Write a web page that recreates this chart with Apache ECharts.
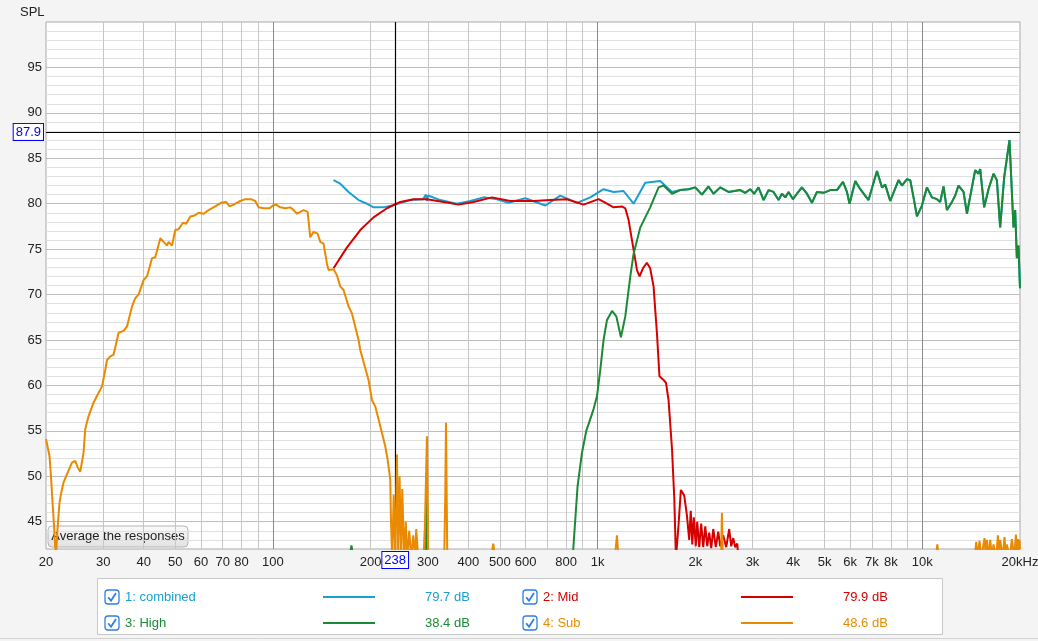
<!DOCTYPE html>
<html><head><meta charset="utf-8">
<script src="https://cdn.jsdelivr.net/npm/echarts@6/dist/echarts.min.js"></script>
<style>html,body{margin:0;padding:0;background:#f4f4f4;}#c{width:1038px;height:641px;}</style>
</head><body><div id="c"></div>
<script>
// ---------- axis ticks ----------
const xTickLabels = [20,30,40,50,60,70,80,100,200,300,400,500,600,800,1000,2000,3000,4000,5000,6000,7000,8000,10000,20000];
const xMinorGrid = [30,40,50,60,70,80,90,200,300,400,500,600,700,800,900,2000,3000,4000,5000,6000,7000,8000,9000];
const xMajorGrid = [100,1000,10000];
const yTickLabels = [45,50,55,60,65,70,75,80,85,90,95];
const yMinorGrid = [43,44,46,47,48,49,51,52,53,54,56,57,58,59,61,62,63,64,66,67,68,69,71,72,73,74,76,77,78,79,81,82,83,84,86,87,88,89,91,92,93,94,96,97,98,99];
const yMin = 42, yMax = 100, xMin = 20, xMax = 20000;

// ---------- cursor ----------
const cursorFreq = 238;
const cursorSPL = 87.9;

// ---------- legend ----------
const seriesNames = ['1: combined', '2: Mid', '3: High', '4: Sub'];
const seriesLevels = ['79.7 dB', '79.9 dB', '38.4 dB', '48.6 dB'];

// ---------- data [Hz, dB SPL] ----------
const combinedLow = [[153.7,82.6],[161.2,82.2],[171.0,81.3],[183.6,80.4],[194.8,80.0],[204.1,79.6],[219.1,79.6],[238.1,79.9],[264.8,80.4],[290,80.5],[296,81.0],[298.1,80.3],[300.5,80.9],[327.7,80.4],[368.8,80.0],[405.3,80.3],[445.4,80.7],[489.7,80.5],[531.8,80.1],[598.8,80.6],[690.4,79.8],[767.5,80.9],[863.8,80.1],[949.3,80.7],[1043,81.6],[1120,81.3],[1202,81.4],[1291,80.0],[1402,82.3],[1559,82.5],[1695,81.3]];

const midData = [[153.7,72.9],[169.1,75.2],[185.8,77.1],[204.1,78.5],[224.5,79.5],[246.8,80.2],[271.1,80.5],[298.1,80.5],[335.5,80.2],[373.0,79.9],[414.9,80.2],[472.7,80.7],[538.2,80.3],[635.0,80.3],[714.9,80.4],[804.5,80.5],[905.2,79.9],[1007,80.5],[1069,80.0],[1120,79.6],[1189,79.7],[1217,79.5],[1246,78.2],[1276,76.0],[1307,73.8],[1322,72.7],[1347,72.0],[1380,72.9],[1418,73.5],[1452,72.9],[1487,70.9],[1523,65.8],[1551,61.0],[1597,60.6],[1624,60.3],[1654,58.4],[1695,53.0],[1723,47.5],[1743,41],[1775,44.6],[1805,48.5],[1848,47.9],[1884,45.7],[1915,43],[1936,46.2],[1957,42.5],[1978,45.5],[2006,42.3],[2027,45],[2056,42.2],[2085,44.8],[2115,42.2],[2146,44.5],[2176,42.3],[2207,43.8],[2239,42.1],[2271,44.2],[2312,42.2],[2353,43.9],[2386,42.3],[2437,43.5],[2490,42.2],[2543,44.2],[2580,42.3],[2617,43.2],[2654,42.2],[2692,42.6],[2730,40]];

const highData = [[172,41],[174.5,42.4],[177,41],[292,41],[294.5,45],[296.5,41],[297.8,49.3],[299.8,41],[829.6,40],[841.5,42],[867.5,48.9],[895.1,52.6],[922.8,55.0],[949.3,56.3],[971.8,57.4],[995.5,58.8],[1019,61.7],[1043,65.0],[1069,67.2],[1108,68.2],[1142,67.6],[1180,65.3],[1217,67.6],[1261,72.0],[1291,74.5],[1354,77.4],[1452,79.6],[1541,81.8],[1597,82.0],[1695,81.1],[1797,81.5],[1907,81.6],[1999,81.8],[2096,81.0],[2196,81.9],[2275,81.1],[2386,81.8],[2530,81.3],[2750,81.5],[2848,81.2],[2951,81.6],[3036,81.1],[3130,81.8],[3245,80.4],[3362,81.5],[3483,81.3],[3609,80.4],[3697,81.1],[3784,80.7],[3874,81.3],[3997,80.5],[4112,81.1],[4260,81.8],[4414,81.1],[4573,80.1],[4738,81.3],[4965,81.2],[5207,81.5],[5460,81.5],[5698,82.4],[5862,81.3],[5971,80.0],[6218,82.5],[6442,81.6],[6832,80.4],[7252,83.6],[7514,81.8],[7691,82.1],[7968,80.3],[8452,82.6],[8659,82.0],[8971,82.7],[9183,82.6],[9400,80.7],[9630,78.6],[9977,79.8],[10337,81.8],[10710,80.7],[11097,80.5],[11359,80.2],[11628,81.9],[11912,79.3],[12342,80.2],[12632,80.9],[12932,82.0],[13399,81.3],[13726,78.9],[14556,83.7],[14901,83.3],[15080,83.8],[15513,79.6],[15995,81.6],[16572,83.3],[16976,82.6],[17377,77.4],[17876,82.9],[18563,87.0],[19097,77.4],[19327,79.3],[19560,74.0],[19785,75.4],[20000,70.7]];

const subData = [[20,54.1],[20.51,52.2],[20.72,50.0],[20.95,47.1],[21.2,44.2],[21.35,42.2],[21.5,41.5],[21.7,44.2],[22.01,47.1],[22.28,48.2],[22.64,49.3],[23.19,50.2],[24.04,51.5],[24.61,51.7],[25.03,51.0],[25.5,50.5],[25.81,50.6],[26.1,52.6],[26.42,55.2],[27.04,56.6],[28.02,58.1],[29.04,59.2],[29.75,59.9],[30.45,61.7],[30.82,62.8],[31.56,63.2],[32.31,63.4],[33.47,65.8],[34.68,66.0],[35.53,66.5],[36.81,68.7],[37.67,69.6],[38.56,70.0],[39.96,71.6],[40.94,72.0],[42.42,74.0],[43.42,74.1],[44.99,76.2],[46.06,75.8],[47.18,75.4],[47.72,75.8],[48.88,75.4],[50.03,77.1],[51.22,77.2],[52.84,77.9],[54.09,77.8],[55.65,78.6],[57.38,78.7],[59.03,79.0],[61.16,78.9],[63.37,79.3],[66.44,79.7],[69.18,80.1],[71.68,80.2],[73.53,79.7],[75.65,79.9],[79.33,80.3],[82.19,80.5],[85.59,80.5],[88.23,80.3],[90.33,79.6],[93.59,79.5],[97.64,79.5],[100,79.8],[102.4,79.9],[105.3,79.6],[109.2,79.5],[113.1,79.6],[115.8,79.3],[118.6,78.9],[121.4,79.1],[124.3,79.3],[127.9,79.1],[130.3,76.3],[133.4,76.9],[137.3,76.7],[139.9,75.8],[143.2,75.6],[146.7,73.4],[148.4,72.7],[153.7,72.8],[157.5,72.1],[161.2,70.9],[165.0,70.5],[171.0,68.7],[175.2,67.9],[183.6,65.0],[185.8,63.9],[197.0,60.6],[201.8,58.4],[206.6,57.7],[211.4,56.3],[216.6,54.8],[221.8,53.3],[225.4,51.9],[229.8,49.7],[230.9,45.3],[233.0,41],[235.5,48],[238.1,41],[241.0,52.4],[243.2,41],[245.5,50.0],[248.4,41],[250.2,48.6],[253.8,41],[256.5,45],[259.2,41],[262.9,44],[266.7,41],[270.5,43.5],[274.3,41],[276.3,44.2],[280.2,41],[292.4,41],[294.5,46],[298.1,54.4],[300.8,41],[337.0,41],[339.5,48],[341.2,55.9],[344.4,41],[470,41],[477,42.6],[484,41],[1130,41],[1147,43.5],[1160,41],[2400,41],[2415,46.0],[2430,41],[11000,41],[11125,42.5],[11250,41],[14500,41],[14664,42.8],[14800,41],[15010,42.9],[15200,41],[15550,43.2],[15700,41],[15815,43.0],[16000,41],[16190,43.0],[16400,41],[16570,42.5],[16900,41],[17095,43.5],[17250,41],[17377,43.0],[17700,41],[17915,43.3],[18100,41],[18220,42.5],[18600,41],[18880,43.1],[19200,41],[19426,43.6],[19600,41],[19700,43.1],[19850,41],[19930,43.0],[20000,42]];

// combined response equals the tweeter response above ~1.8 kHz
const combinedData = combinedLow.concat(highData.filter(p => p[0] >= 1797));

const colors = ['#1a9fd0', '#d60000', '#1b8a35', '#ea8a00'];
const FONT = "'Liberation Sans', Arial, sans-serif";

function fmtFreq(v) {
  if (v >= 20000) return '20kHz';
  if (v >= 1000) return Math.round(v / 1000) + 'k';
  return String(Math.round(v));
}

const cursorLabel = {
  color: '#0000ff', borderColor: '#0000ff', borderWidth: 1, backgroundColor: '#ffffff',
  padding: [2, 2, 1, 2], fontSize: 13, fontFamily: FONT
};

const seriesList = [combinedData, midData, highData, subData].map((d, i) => ({
  type: 'line', name: seriesNames[i], data: d, showSymbol: false, symbol: 'none',
  clip: true, z: 2 + i, lineStyle: { color: colors[i], width: 2 }, itemStyle: { color: colors[i] },
  animation: false
}));
seriesList[0].markLine = {
  silent: true, symbol: ['none', 'none'], animation: false,
  lineStyle: { color: '#000', width: 1.2, type: 'solid' },
  data: [
    { yAxis: cursorSPL, label: Object.assign({ position: 'start', distance: 3, formatter: String(cursorSPL) }, cursorLabel) },
    { xAxis: cursorFreq, label: Object.assign({ position: 'start', distance: 3, formatter: String(cursorFreq) }, cursorLabel) }
  ]
};

// legend graphics
const legendGraphics = [
  { type: 'rect', shape: { x: 97.5, y: 578.5, width: 845, height: 56 }, style: { fill: '#fff', stroke: '#c8c8c8', lineWidth: 1 } }
];
const legendPos = [[105, 590], [523, 590], [105, 616], [523, 616]];
[0, 1, 2, 3].forEach(i => {
  const [bx, by] = legendPos[i];
  const cy = by + 7;
  legendGraphics.push(
    { type: 'rect', shape: { x: bx, y: by, width: 14, height: 14, r: 3 }, style: { fill: '#fff', stroke: '#2d7fe8', lineWidth: 1.3 } },
    { type: 'polyline', shape: { points: [[bx + 3.2, by + 7.2], [bx + 6, by + 10.8], [bx + 11, by + 3]] }, style: { stroke: '#2d7fe8', lineWidth: 1.8, fill: null } },
    { type: 'text', x: bx + 20, y: cy, style: { text: seriesNames[i], fill: colors[i], font: '13px ' + FONT, textVerticalAlign: 'middle' } },
    { type: 'line', shape: { x1: bx + 218, y1: cy, x2: bx + 270, y2: cy }, style: { stroke: colors[i], lineWidth: 2 } },
    { type: 'text', x: bx + 320, y: cy, style: { text: seriesLevels[i], fill: colors[i], font: '13px ' + FONT, textVerticalAlign: 'middle' } }
  );
});

const chart = echarts.init(document.getElementById('c'), null, { renderer: 'canvas' });
chart.setOption({
  backgroundColor: '#f4f4f4',
  animation: false,
  grid: { left: 46, right: 18, top: 22, bottom: 92, outerBoundsMode: 'none', containLabel: false,
          show: true, backgroundColor: '#ffffff', borderColor: '#a8a8a8', borderWidth: 1 },
  xAxis: [
    { type: 'log', logBase: 10, min: xMin, max: xMax, position: 'bottom',
      axisLine: { show: false }, axisTick: { show: false, customValues: xMinorGrid },
      axisLabel: { customValues: xTickLabels, formatter: fmtFreq, margin: 7, color: '#222', fontSize: 13, fontFamily: FONT },
      splitLine: { show: true, lineStyle: { color: '#c6c6c6', width: 1 } } },
    { type: 'log', logBase: 10, min: xMin, max: xMax, position: 'bottom',
      axisLine: { show: false }, axisTick: { show: false, customValues: xMajorGrid },
      axisLabel: { show: false },
      splitLine: { show: true, lineStyle: { color: '#8a8a8a', width: 1 } } }
  ],
  yAxis: [
    { type: 'value', min: yMin, max: yMax, position: 'left',
      axisLine: { show: false }, axisTick: { show: false, customValues: yTickLabels },
      axisLabel: { customValues: yTickLabels, margin: 4, color: '#222', fontSize: 13, fontFamily: FONT },
      splitLine: { show: true, lineStyle: { color: '#bdbdbd', width: 1 } } },
    { type: 'value', min: yMin, max: yMax, position: 'left',
      axisLine: { show: false }, axisTick: { show: false, customValues: yMinorGrid },
      axisLabel: { show: false },
      splitLine: { show: true, lineStyle: { color: '#e0e0e0', width: 1 } } }
  ],
  series: seriesList,
  graphic: {
    elements: [
      { type: 'text', x: 20, y: 12, z: 100, style: { text: 'SPL', fill: '#222', font: '13px ' + FONT, textVerticalAlign: 'middle' } },
      { type: 'group', z: 100, children: [
        { type: 'rect', shape: { x: 48, y: 526, width: 140, height: 21, r: 4 },
          style: { fill: new echarts.graphic.LinearGradient(0, 0, 0, 1, [{ offset: 0, color: '#fbfbfb' }, { offset: 1, color: '#e1e1e1' }]), stroke: '#b4b4b4', lineWidth: 1 } },
        { type: 'text', x: 118, y: 536.5, style: { text: 'Average the responses', fill: '#222', font: '13px ' + FONT, textAlign: 'center', textVerticalAlign: 'middle' } }
      ] },
      { type: 'group', z: 100, children: legendGraphics },
      { type: 'line', z: 100, shape: { x1: 0, y1: 638.5, x2: 1038, y2: 638.5 }, style: { stroke: '#d4d4d4', lineWidth: 1 } }
    ]
  }
});
</script></body></html>
